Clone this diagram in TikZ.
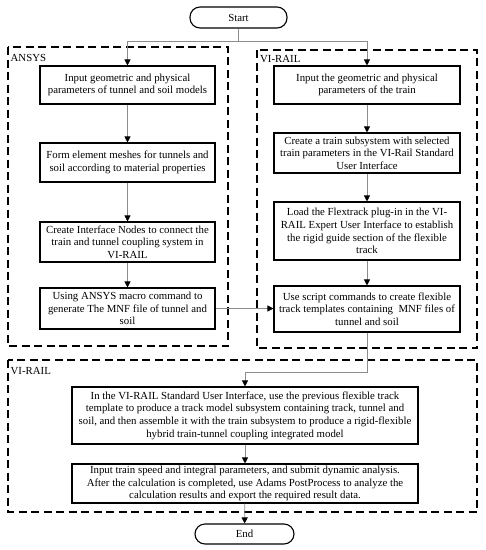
\documentclass[tikz,border=0pt]{standalone}
\usepackage{fontspec}
\setmainfont{Liberation Serif}
\usetikzlibrary{arrows.meta}
\begin{document}
\begin{tikzpicture}[x=1pt,y=-1pt,
  box/.style={draw=black, line width=1.1pt, align=center, inner sep=1pt,
    font=\fontsize{10.8}{12.6}\selectfont},
  term/.style={draw=black, line width=1.1pt, rounded corners=10pt, align=center,
    font=\fontsize{10.8}{12.6}\selectfont},
  group/.style={draw=black, line width=1.1pt, dash pattern=on 8pt off 4.5pt},
  glabel/.style={anchor=base west, inner sep=0pt, font=\fontsize{10.8}{12}\selectfont},
  conn/.style={draw=gray!90, line width=0.8pt},
  arr/.style={conn, -{Triangle[length=6pt,width=6pt,color=black]}}
]
\useasboundingbox (0,0) rectangle (486,550);

% group frames
\draw[group] (8,47) rectangle (228,346);
\draw[group] (257,50) rectangle (477,348);
\draw[group] (8,360) rectangle (477,512);
\node[glabel] (lab1) at (10.5,61) {ANSYS};
\node[glabel] (lab2) at (260,62) {VI-RAIL};
\node[glabel] (lab3) at (10.5,374.5) {VI-RAIL};

% terminals
\node[term, minimum width=97pt, minimum height=21pt] (start) at (238.5,17.5) {Start};
\node[term, minimum width=99pt, minimum height=20pt] (end) at (244.5,534) {End};

% left column
\node[box, minimum width=175pt, minimum height=38pt] (L1) at (127.5,85)
  {Input geometric and physical\\parameters of tunnel and soil models};
\node[box, minimum width=175pt, minimum height=39pt] (L2) at (127.5,162.5)
  {Form element meshes for tunnels and\\soil according to material properties};
\node[box, minimum width=175pt, minimum height=40pt] (L3) at (127.5,242)
  {Create Interface Nodes to connect the\\train and tunnel coupling system in\\VI-RAIL};
\node[box, minimum width=175pt, minimum height=41pt] (L4) at (127.5,308.5)
  {Using ANSYS macro command to\\generate The MNF file of tunnel and\\soil};

% right column
\node[box, minimum width=186pt, minimum height=38pt] (R1) at (367,85)
  {Input the geometric and physical\\parameters of the train};
\node[box, minimum width=186pt, minimum height=40pt] (R2) at (367,153)
  {Create a train subsystem with selected\\train parameters in the VI-Rail Standard\\User Interface};
\node[box, minimum width=186pt, minimum height=58pt] (R3) at (367,231)
  {Load the Flextrack plug-in in the VI-\\RAIL Expert User Interface to establish\\the rigid guide section of the flexible\\track};
\node[box, minimum width=186pt, minimum height=46pt] (R4) at (367,309)
  {Use script commands to create flexible\\track templates containing\ \ MNF files of\\tunnel and soil};

% bottom
\node[box, minimum width=346pt, minimum height=57pt] (B1) at (245,415.5)
  {In the VI-RAIL Standard User Interface, use the previous flexible track\\template to produce a track model subsystem containing track, tunnel and\\soil, and then assemble it with the train subsystem to produce a rigid-flexible\\hybrid train-tunnel coupling integrated model};
\node[box, minimum width=346pt, minimum height=39pt] (B2) at (245,483.5)
  {Input train speed and integral parameters, and submit dynamic analysis.\\After the calculation is completed, use Adams PostProcess to analyze the\\calculation results and export the required result data.};

% connectors
\coordinate (split) at (238.5,41);
\draw[conn] (start.south) -- (split);
\draw[arr] (split) -| (L1.north);
\draw[arr] (split) -| (R1.north);
\draw[arr] (L1) -- (L2);
\draw[arr] (L2) -- (L3);
\draw[arr] (L3) -- (L4);
\draw[arr] (R1) -- (R2);
\draw[arr] (R2) -- (R3);
\draw[arr] (R3) -- (R4);
\draw[arr] (L4.east) -- (L4.east -| R4.west);
\coordinate (turn) at (367,372);
\draw[arr] (R4.south) -- (turn) -| (B1.north);
\draw[arr] (B1) -- (B2);
\draw[arr] (B2) -- (end);
\end{tikzpicture}
\end{document}
